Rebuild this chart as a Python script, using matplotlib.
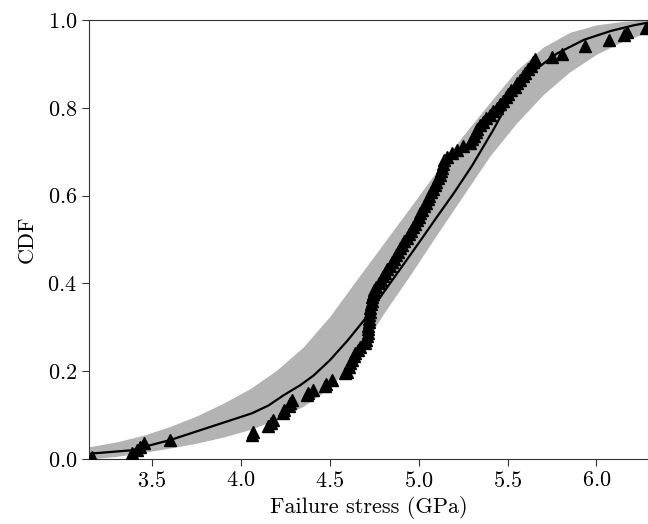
import matplotlib
matplotlib.use('Agg')
import matplotlib.pyplot as plt

# measured failure stresses (GPa) and their empirical CDF values
stress = [3.160, 3.386, 3.414, 3.432, 3.457, 3.600, 4.061, 4.065, 4.155, 4.170,
          4.183, 4.239, 4.245, 4.268, 4.275, 4.287, 4.371, 4.380, 4.408, 4.474,
          4.480, 4.512, 4.587, 4.595, 4.606, 4.615, 4.624, 4.635, 4.643, 4.660,
          4.671, 4.699, 4.705, 4.710, 4.712, 4.714, 4.716, 4.718, 4.720, 4.722,
          4.724, 4.728, 4.732, 4.736, 4.740, 4.745, 4.750, 4.758, 4.775, 4.788,
          4.800, 4.812, 4.824, 4.836, 4.848, 4.860, 4.872, 4.884, 4.896, 4.908,
          4.920, 4.932, 4.944, 4.956, 4.968, 4.980, 4.990, 5.000, 5.010, 5.020,
          5.030, 5.040, 5.050, 5.060, 5.070, 5.080, 5.090, 5.100, 5.110, 5.118,
          5.125, 5.130, 5.135, 5.140, 5.160, 5.190, 5.215, 5.250, 5.290, 5.300,
          5.310, 5.320, 5.330, 5.345, 5.360, 5.380, 5.400, 5.420, 5.440, 5.460,
          5.475, 5.490, 5.505, 5.520, 5.540, 5.555, 5.570, 5.585, 5.600, 5.615,
          5.630, 5.645, 5.657, 5.750, 5.807, 5.938, 6.070, 6.154, 6.170, 6.276]
cdf = [0.005, 0.013, 0.020, 0.028, 0.036, 0.043, 0.055, 0.062, 0.075, 0.082,
       0.089, 0.105, 0.112, 0.120, 0.127, 0.134, 0.145, 0.150, 0.157, 0.167,
       0.172, 0.180, 0.195, 0.199, 0.210, 0.218, 0.226, 0.234, 0.241, 0.249,
       0.256, 0.264, 0.272, 0.280, 0.288, 0.296, 0.304, 0.312, 0.320, 0.328,
       0.336, 0.344, 0.352, 0.360, 0.368, 0.376, 0.384, 0.392, 0.400, 0.408,
       0.416, 0.424, 0.432, 0.440, 0.448, 0.456, 0.464, 0.472, 0.480, 0.488,
       0.496, 0.504, 0.512, 0.520, 0.528, 0.536, 0.544, 0.552, 0.560, 0.568,
       0.576, 0.584, 0.592, 0.600, 0.608, 0.616, 0.624, 0.632, 0.640, 0.648,
       0.656, 0.664, 0.672, 0.680, 0.688, 0.696, 0.704, 0.712, 0.720, 0.728,
       0.736, 0.744, 0.752, 0.760, 0.768, 0.776, 0.784, 0.792, 0.800, 0.808,
       0.816, 0.824, 0.832, 0.840, 0.848, 0.856, 0.864, 0.872, 0.880, 0.888,
       0.896, 0.904, 0.912, 0.916, 0.922, 0.940, 0.955, 0.966, 0.973, 0.982]

# fitted model CDF
fit_x = [3.145, 3.386, 3.457, 3.600, 4.061, 4.155, 4.239, 4.333, 4.408, 4.500,
         4.600, 4.710, 4.800, 4.900, 5.000, 5.100, 5.200, 5.300, 5.420, 5.500,
         5.600, 5.666, 5.779, 5.930, 6.080, 6.210, 6.290]
fit_y = [0.012, 0.020, 0.028, 0.043, 0.104, 0.122, 0.145, 0.168, 0.190, 0.225,
         0.270, 0.325, 0.378, 0.435, 0.492, 0.550, 0.607, 0.668, 0.750, 0.810,
         0.862, 0.890, 0.924, 0.955, 0.975, 0.988, 0.994]

# confidence band edges
band_x = [3.145, 3.30, 3.45, 3.60, 3.75, 3.90, 4.05, 4.20, 4.35, 4.50, 4.65,
          4.80, 4.95, 5.10, 5.25, 5.40, 5.55, 5.70, 5.85, 6.00, 6.15, 6.29]
band_hi = [0.028, 0.039, 0.054, 0.074, 0.098, 0.127, 0.160, 0.202, 0.255, 0.325,
           0.408, 0.490, 0.572, 0.655, 0.737, 0.812, 0.885, 0.938, 0.972, 0.989,
           0.997, 1.000]
band_lo = [0.000, 0.006, 0.015, 0.025, 0.036, 0.050, 0.067, 0.090, 0.120, 0.162,
           0.232, 0.330, 0.418, 0.510, 0.600, 0.690, 0.765, 0.830, 0.882, 0.922,
           0.952, 0.972]


def make_plot():
    plt.rcParams['font.family'] = 'cmr10'
    plt.rcParams['mathtext.fontset'] = 'cm'
    plt.rcParams['axes.formatter.use_mathtext'] = True
    plt.rcParams['font.size'] = 16

    fig = plt.figure(figsize=(6.48, 5.24), dpi=100)
    ax = fig.add_axes([0.1373, 0.124, 0.8627, 0.8378])

    ax.fill_between(band_x, band_lo, band_hi, color='#b3b3b3', lw=0, zorder=1)
    ax.plot(fit_x, fit_y, color='black', lw=1.6, zorder=2)
    ax.plot(stress, cdf, '^', color='black', ms=9, zorder=3)

    ax.set_xlim(3.145, 6.29)
    ax.set_ylim(0, 1)
    ax.set_xticks([3.5, 4.0, 4.5, 5.0, 5.5, 6.0])
    ax.set_yticks([0.0, 0.2, 0.4, 0.6, 0.8, 1.0])
    ax.spines['right'].set_visible(False)
    for s in ax.spines.values():
        s.set_color('#333333')
    ax.tick_params(direction='out', length=5, color='#333333')

    ax.set_xlabel('Failure stress (GPa)', labelpad=4)
    ax.set_ylabel('CDF', labelpad=8)

    fig.savefig('out.png', dpi=100)


if __name__ == "__main__":
    make_plot()
